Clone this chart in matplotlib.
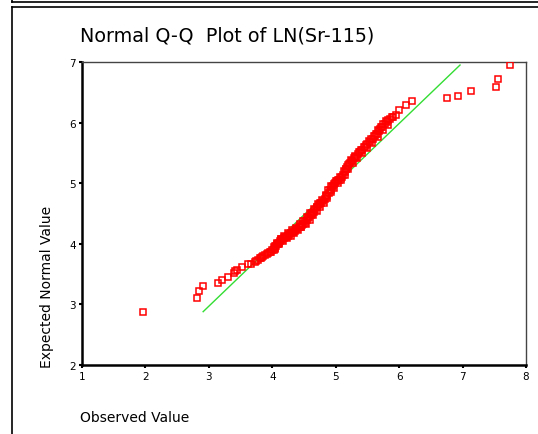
import matplotlib
matplotlib.use("Agg")
import matplotlib.pyplot as plt
from matplotlib.lines import Line2D

observed = [
    1.96, 2.82, 2.84, 2.91, 3.14, 3.20, 3.30, 3.40, 3.42, 3.44, 3.52, 3.61, 3.67, 3.72,
    3.75, 3.78, 3.80, 3.82, 3.84, 3.86, 3.88, 3.91, 3.94, 3.96, 3.98, 4.00, 4.02,
    4.04, 4.06, 4.08, 4.10, 4.12, 4.15, 4.18, 4.21, 4.24, 4.27, 4.30, 4.33,
    4.36, 4.39, 4.42, 4.44, 4.47, 4.49, 4.52, 4.55, 4.58, 4.61, 4.63, 4.65,
    4.68, 4.71, 4.74, 4.77, 4.80, 4.83, 4.86, 4.89, 4.92, 4.94, 4.96,
    4.99, 5.02, 5.05, 5.08, 5.12, 5.14, 5.16, 5.18, 5.21, 5.23,
    5.26, 5.29, 5.32, 5.35, 5.38, 5.42, 5.46, 5.50, 5.54, 5.59,
    5.62, 5.65, 5.68, 5.70, 5.73, 5.77, 5.81, 5.86, 5.90, 5.95, 6.00, 6.11, 6.20,
    6.76, 6.93, 7.14, 7.53, 7.56, 7.75,
    # more passes over the thick band
    4.05, 4.09, 4.14, 4.20, 4.26, 4.32, 4.38, 4.45, 4.51, 4.57, 4.62, 4.70, 4.76,
    4.85, 4.91, 4.98, 5.04, 5.10, 5.17, 5.25, 5.31, 5.40, 5.48, 5.56, 5.64, 5.72, 5.80,
    4.03, 4.07, 4.13, 4.19, 4.25, 4.31, 4.37, 4.43, 4.48, 4.54, 4.60, 4.66, 4.72,
    4.78, 4.84, 4.88, 4.93, 5.00, 5.06, 5.13, 5.19, 5.24, 5.30, 5.36, 5.44, 5.52,
    5.60, 5.67, 5.75, 5.83, 5.88,
    4.05, 4.11, 4.17, 4.23, 4.29, 4.35, 4.41, 4.46, 4.53, 4.59, 4.64, 4.70, 4.75,
    4.81, 4.87, 4.93, 4.97, 5.03, 5.09, 5.15, 5.20, 5.27, 5.34, 5.41, 5.49, 5.57,
    5.66, 5.74, 5.82,
]
expected = [
    2.875, 3.10, 3.22, 3.31, 3.35, 3.41, 3.46, 3.51, 3.55, 3.57, 3.62, 3.66, 3.67, 3.70,
    3.72, 3.74, 3.76, 3.77, 3.78, 3.80, 3.81, 3.83, 3.85, 3.87, 3.87, 3.89, 3.90,
    3.93, 3.96, 3.99, 4.02, 4.05, 4.07, 4.09, 4.11, 4.13, 4.15, 4.17, 4.19,
    4.21, 4.24, 4.27, 4.29, 4.31, 4.33, 4.37, 4.40, 4.44, 4.47, 4.50, 4.52,
    4.56, 4.60, 4.64, 4.67, 4.71, 4.74, 4.79, 4.84, 4.89, 4.93, 4.96,
    5.00, 5.03, 5.06, 5.09, 5.14, 5.18, 5.23, 5.27, 5.31, 5.34,
    5.37, 5.41, 5.44, 5.48, 5.51, 5.55, 5.60, 5.64, 5.68, 5.73,
    5.78, 5.82, 5.86, 5.89, 5.93, 5.97, 6.01, 6.06, 6.09, 6.12, 6.20, 6.29, 6.36,
    6.41, 6.44, 6.52, 6.59, 6.72, 6.95,
    3.96, 3.99, 4.08, 4.12, 4.16, 4.20, 4.24, 4.28, 4.35, 4.42, 4.49, 4.60, 4.67,
    4.79, 4.88, 4.99, 5.05, 5.11, 5.24, 5.36, 5.43, 5.55, 5.63, 5.73, 5.81, 5.92, 6.02,
    3.95, 4.01, 4.08, 4.13, 4.17, 4.22, 4.26, 4.32, 4.37, 4.44, 4.51, 4.58, 4.66,
    4.73, 4.81, 4.89, 4.95, 5.04, 5.10, 5.20, 5.30, 5.38, 5.45, 5.52, 5.60, 5.69,
    5.78, 5.87, 5.97, 6.05, 6.10,
    3.91, 3.99, 4.05, 4.09, 4.13, 4.17, 4.23, 4.27, 4.33, 4.40, 4.47, 4.54, 4.60,
    4.68, 4.76, 4.85, 4.92, 5.00, 5.06, 5.14, 5.24, 5.33, 5.42, 5.50, 5.58, 5.67,
    5.77, 5.87, 5.96,
]
line_x = [2.91, 6.96]
line_y = [2.88, 6.95]

fig = plt.figure(figsize=(5.38, 4.35), dpi=100)
ax = fig.add_axes([0.1524, 0.1586, 0.8253, 0.6966])

ax.plot(line_x, line_y, color="#33dd33", lw=1.0, zorder=2)
ax.plot(observed, expected, ls="none", marker="s", ms=4.4, mfc="none",
        mec="#ff0000", mew=1.1, zorder=3)

ax.set_xlim(1, 8)
ax.set_ylim(2, 7)
ax.set_xticks(range(1, 9))
ax.set_yticks(range(2, 8))
ax.tick_params(length=2.5, width=1.5, labelsize=7.5, pad=2, color="black")

for side in ["left", "bottom"]:
    ax.spines[side].set_linewidth(1.8)
for side in ["top", "right"]:
    ax.spines[side].set_linewidth(1.0)
    ax.spines[side].set_color("#444444")

fig.text(0.149, 0.918, "Normal Q-Q  Plot of LN(Sr-115)", fontsize=13.8,
         ha="left", va="center")
fig.text(0.149, 0.040, "Observed Value", fontsize=10, ha="left", va="center")
fig.text(0.088, 0.155, "Expected Normal Value", fontsize=10, rotation=90,
         ha="center", va="bottom")

# outer frames
fig.add_artist(Line2D([12 / 538, 12 / 538], [0, 1 - 8 / 435], color="black",
                      lw=1.2, transform=fig.transFigure))
fig.add_artist(Line2D([12 / 538, 1], [1 - 8 / 435, 1 - 8 / 435], color="black",
                      lw=1.2, transform=fig.transFigure))
fig.add_artist(Line2D([12 / 538, 1], [1 - 2.5 / 435, 1 - 2.5 / 435], color="black",
                      lw=1.2, transform=fig.transFigure))
fig.add_artist(Line2D([12 / 538, 12 / 538], [1 - 2.5 / 435, 1], color="black",
                      lw=1.2, transform=fig.transFigure))

fig.savefig("out.png", dpi=100)
